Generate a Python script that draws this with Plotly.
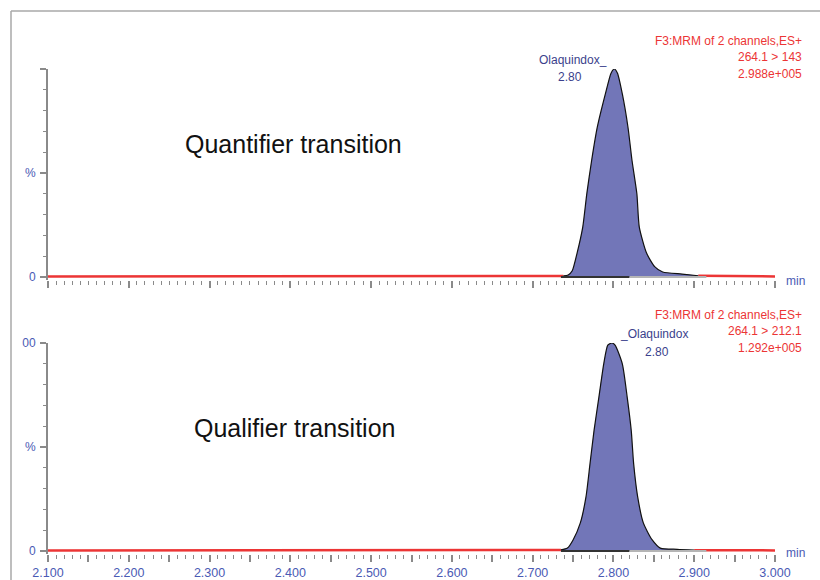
import plotly.graph_objects as go

# ---- data ----
# Quantifier transition (264.1 > 143) chromatogram, % relative intensity
top_t = [2.100, 2.500, 2.720, 2.738, 2.744, 2.749, 2.755, 2.762, 2.767, 2.773, 2.780, 2.790,
         2.797, 2.801, 2.805, 2.811, 2.818, 2.823, 2.829, 2.832, 2.841, 2.851, 2.861, 2.885,
         2.905, 2.950, 3.000]
top_i = [0.3, 0.3, 0.3, 0.5, 1.0, 3.0, 11.5, 24.0, 40.0, 56.0, 72.0, 88.0,
         98.0, 100.0, 98.0, 88.0, 72.0, 56.0, 40.0, 24.0, 11.5, 5.0, 2.4, 1.4,
         0.6, 0.4, 0.3]

# Qualifier transition (264.1 > 212.1) chromatogram
bot_t = [2.100, 2.500, 2.720, 2.735, 2.743, 2.750, 2.759, 2.766, 2.771, 2.776, 2.782, 2.788,
         2.793, 2.798, 2.802, 2.811, 2.817, 2.822, 2.825, 2.830, 2.837, 2.848, 2.858, 2.879,
         2.900, 2.950, 3.000]
bot_i = [0.3, 0.3, 0.3, 0.5, 1.4, 5.3, 13.5, 26.0, 42.0, 58.0, 74.0, 90.0,
         99.0, 100.0, 99.0, 90.0, 74.0, 58.0, 42.0, 26.0, 13.5, 5.3, 1.4, 0.8,
         0.4, 0.3, 0.3]

# integrated peak window (start, end)
peak_window = [2.735, 2.910]
# integration baselines (start, end of dark / grey segments)
base_black_t = [2.735, 2.820]
base_grey_t = [2.820, 2.915]
base_i = [0, 0]

x_tickvals = [2.10, 2.15, 2.20, 2.25, 2.30, 2.35, 2.40, 2.45, 2.50, 2.55,
              2.60, 2.65, 2.70, 2.75, 2.80, 2.85, 2.90, 2.95, 3.00]
x_ticktext = ["2.100", "", "2.200", "", "2.300", "", "2.400", "", "2.500", "",
              "2.600", "", "2.700", "", "2.800", "", "2.900", "", "3.000"]
y_tickvals = [0, 50, 100]
top_y_text = ["0", "%", ""]
bot_y_text = ["0", "%", "00"]

peak_name = "Olaquindox"
peak_rt = "2.80"
top_info = ["F3:MRM of 2 channels,ES+", "264.1 > 143", "2.988e+005"]
bot_info = ["F3:MRM of 2 channels,ES+", "264.1 > 212.1", "1.292e+005"]
titles = ["Quantifier transition", "Qualifier transition"]

# ---- styling ----
W, H = 820, 580
FONT = "Liberation Sans, Arial, sans-serif"
RED = "#ec3535"
BLUE = "#4a5ab4"
NAVY = "#3b3f8c"
FILL = "#7276b8"
GREY = "#8a8a8a"
YMIN = -1.5  # small pad so the 0-baseline is not clipped

def px_x(p):
    return p / W

def px_y(p):
    return 1 - p / H

fig = go.Figure()

for (t, i, xa, ya) in [(top_t, top_i, "x", "y"), (bot_t, bot_i, "x2", "y2")]:
    inside = [peak_window[0] <= a <= peak_window[1] for a in t]
    idx_in = [k for k, ins in enumerate(inside) if ins]
    fi, li = idx_in[0], idx_in[-1]
    # chromatogram trace (red) outside the integrated window
    red_i = [b if (k <= fi or k >= li) else None for k, b in enumerate(i)]
    fig.add_trace(go.Scatter(x=t, y=red_i, mode="lines", connectgaps=False,
                             line=dict(color=RED, width=2.5), xaxis=xa, yaxis=ya,
                             hoverinfo="skip"))
    # integrated peak (filled, black outline)
    pk_t = t[fi:li + 1]
    pk_i = i[fi:li + 1]
    fig.add_trace(go.Scatter(x=pk_t, y=pk_i, mode="lines", fill="tozeroy",
                             fillcolor=FILL,
                             line=dict(color="#111111", width=1.2, shape="spline", smoothing=0.6),
                             xaxis=xa, yaxis=ya))
    fig.add_trace(go.Scatter(x=base_black_t, y=base_i, mode="lines",
                             line=dict(color="#333333", width=2), xaxis=xa, yaxis=ya))
    fig.add_trace(go.Scatter(x=base_grey_t, y=base_i, mode="lines",
                             line=dict(color="#b5b5b5", width=2), xaxis=xa, yaxis=ya))

xdom = [px_x(48), px_x(775)]
axis_common = dict(range=[2.1, 3.0], showgrid=False, zeroline=False, showline=False,
                   ticks="outside", ticklen=7,
                   tickcolor=GREY, tickwidth=1.5, tickmode="array",
                   tickvals=x_tickvals, ticktext=x_ticktext,
                   minor=dict(tickmode="linear", tick0=2.1, dtick=0.01, ticks="outside",
                              ticklen=4, tickcolor=GREY, tickwidth=1),
                   tickfont=dict(family=FONT, size=12.5, color=BLUE), domain=xdom)
yaxis_common = dict(range=[YMIN, 100], showgrid=False, zeroline=False, showline=True,
                    linecolor=GREY, linewidth=2, ticks="outside", ticklen=6,
                    tickcolor=GREY, tickwidth=1.5, tickmode="array", tickvals=y_tickvals,
                    minor=dict(tickmode="linear", tick0=0, dtick=10, ticks="outside",
                               ticklen=3, tickcolor=GREY, tickwidth=1),
                    tickfont=dict(family=FONT, size=12, color=BLUE), ticklabelstandoff=2)

pad = 208 * (-YMIN) / 100.0

fig.update_layout(
    width=W, height=H, margin=dict(l=0, r=0, t=0, b=0, autoexpand=False),
    paper_bgcolor="white", plot_bgcolor="rgba(0,0,0,0)", showlegend=False,
    xaxis=dict(axis_common, anchor="y", showticklabels=False),
    yaxis=dict(yaxis_common, anchor="x", domain=[px_y(277 + pad), px_y(69)], ticktext=top_y_text),
    xaxis2=dict(axis_common, anchor="y2", showticklabels=True),
    yaxis2=dict(yaxis_common, anchor="x2", domain=[px_y(551 + pad), px_y(343)], ticktext=bot_y_text),
)

# frame lines
fig.add_shape(type="line", xref="paper", yref="paper", x0=px_x(11), x1=1.0,
              y0=px_y(11), y1=px_y(11), line=dict(color="#a8a8a8", width=1.5))
fig.add_shape(type="line", xref="paper", yref="paper", x0=px_x(11), x1=px_x(11),
              y0=px_y(11), y1=0, line=dict(color="#a8a8a8", width=1.5))

def ann(text, x, y, color, size=12, xanchor="center"):
    fig.add_annotation(text=text, xref="paper", yref="paper", x=px_x(x), y=px_y(y),
                       xanchor=xanchor, yanchor="middle", showarrow=False,
                       font=dict(family=FONT, size=size, color=color))

# titles
ann(titles[0], 293, 144, "#111111", size=25)
ann(titles[1], 294, 428, "#111111", size=25)

# info text (right-aligned)
for k, line in enumerate(top_info):
    ann(line, 804, 41 + k * 16.3, RED, xanchor="right")
for k, line in enumerate(bot_info):
    ann(line, 804, 315 + k * 16.3, RED, xanchor="right")

# peak labels
ann(peak_name + "_", 573, 60, NAVY)
ann(peak_rt, 570, 77, NAVY)
ann("_" + peak_name, 654, 334, NAVY)
ann(peak_rt, 657, 352, NAVY)

# "min" units
ann("min", 795, 281, BLUE)
ann("min", 795, 553, BLUE)

fig.write_html(
    "out.html",
    config={"displayModeBar": False},
    post_script=("document.body.style.margin='0';"
                 "document.body.style.overflow='hidden';"
                 "document.documentElement.style.overflow='hidden';"),
)
